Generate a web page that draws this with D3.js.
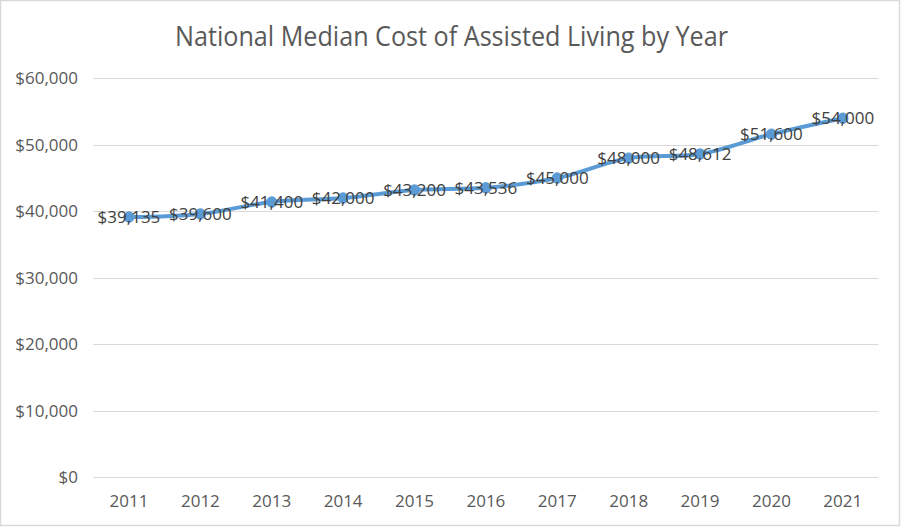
<!DOCTYPE html>
<html><head><meta charset="utf-8">
<script src="https://cdn.jsdelivr.net/npm/d3@7"></script>
<style>html,body{margin:0;padding:0;background:#fff;} svg{display:block;}</style>
</head><body>
<script>
const years = ["2011","2012","2013","2014","2015","2016","2017","2018","2019","2020","2021"];
const costs = [39135, 39600, 41400, 42000, 43200, 43536, 45000, 48000, 48612, 51600, 54000];
const yTicks = [0, 10000, 20000, 30000, 40000, 50000, 60000];
const title = "National Median Cost of Assisted Living by Year";

const W = 901, H = 527;
const svg = d3.select("body").append("svg").attr("width", W).attr("height", H);
svg.append("rect").attr("x",0.5).attr("y",0.5).attr("width",W-2).attr("height",H-2)
  .attr("fill","#fff").attr("stroke","#d9d9d9").attr("stroke-width",1.5);

const x = d3.scaleBand().domain(years).range([93.3, 878.5]).padding(0);
const y = d3.scaleLinear().domain([0, 60000]).range([477.3, 78.3]);
const font = "'Open Sans', 'Noto Sans', sans-serif";
const fmt = v => "$" + d3.format(",")(v);

// title
svg.append("text").attr("x", 451.5).attr("y", 45.5).attr("text-anchor","middle")
  .attr("font-family", font).attr("font-size", 27).attr("fill","#595959")
  .attr("textLength", 553).attr("lengthAdjust","spacingAndGlyphs").text(title);

// gridlines
svg.append("g").selectAll("line").data(yTicks).join("line")
  .attr("x1", x.range()[0]).attr("x2", x.range()[1])
  .attr("y1", d => Math.round(y(d)) + 0.5).attr("y2", d => Math.round(y(d)) + 0.5)
  .attr("stroke","#d9d9d9").attr("stroke-width",1);

// y axis labels
const yAxis = d3.axisLeft(y).tickValues(yTicks).tickFormat(fmt).tickSize(0).tickPadding(0);
const gy = svg.append("g").attr("transform","translate(78,0)").call(yAxis);
gy.select(".domain").remove();
gy.selectAll("text").attr("font-family", font).attr("font-size", 17).attr("fill","#595959");

// x axis labels
const xAxis = d3.axisBottom(x).tickSize(0).tickPadding(0);
const gx = svg.append("g").attr("transform","translate(0,493)").call(xAxis);
gx.select(".domain").remove();
gx.selectAll("text").attr("font-family", font).attr("font-size", 17).attr("fill","#595959").attr("dy","0.8em");

const pts = years.map((yr,i) => [x(yr) + x.bandwidth()/2, y(costs[i])]);
const line = d3.line().curve(d3.curveCatmullRom.alpha(0));
svg.append("path").attr("d", line(pts)).attr("fill","none")
  .attr("stroke","#5b9bd5").attr("stroke-width",4).attr("stroke-linecap","round");

svg.append("g").selectAll("circle").data(years).join("circle")
  .attr("cx", d => x(d) + x.bandwidth()/2).attr("cy", (d,i) => y(costs[i]))
  .attr("r", 5.2).attr("fill","#5b9bd5").attr("stroke","#5b9bd5").attr("stroke-width",1);

svg.append("g").selectAll("text").data(years).join("text")
  .attr("x", d => x(d) + x.bandwidth()/2).attr("y", (d,i) => y(costs[i]))
  .attr("dy","0.36em").attr("text-anchor","middle")
  .attr("font-family", font).attr("font-size", 17).attr("fill","#404040")
  .text((d,i) => fmt(costs[i]));
</script>
</body></html>
